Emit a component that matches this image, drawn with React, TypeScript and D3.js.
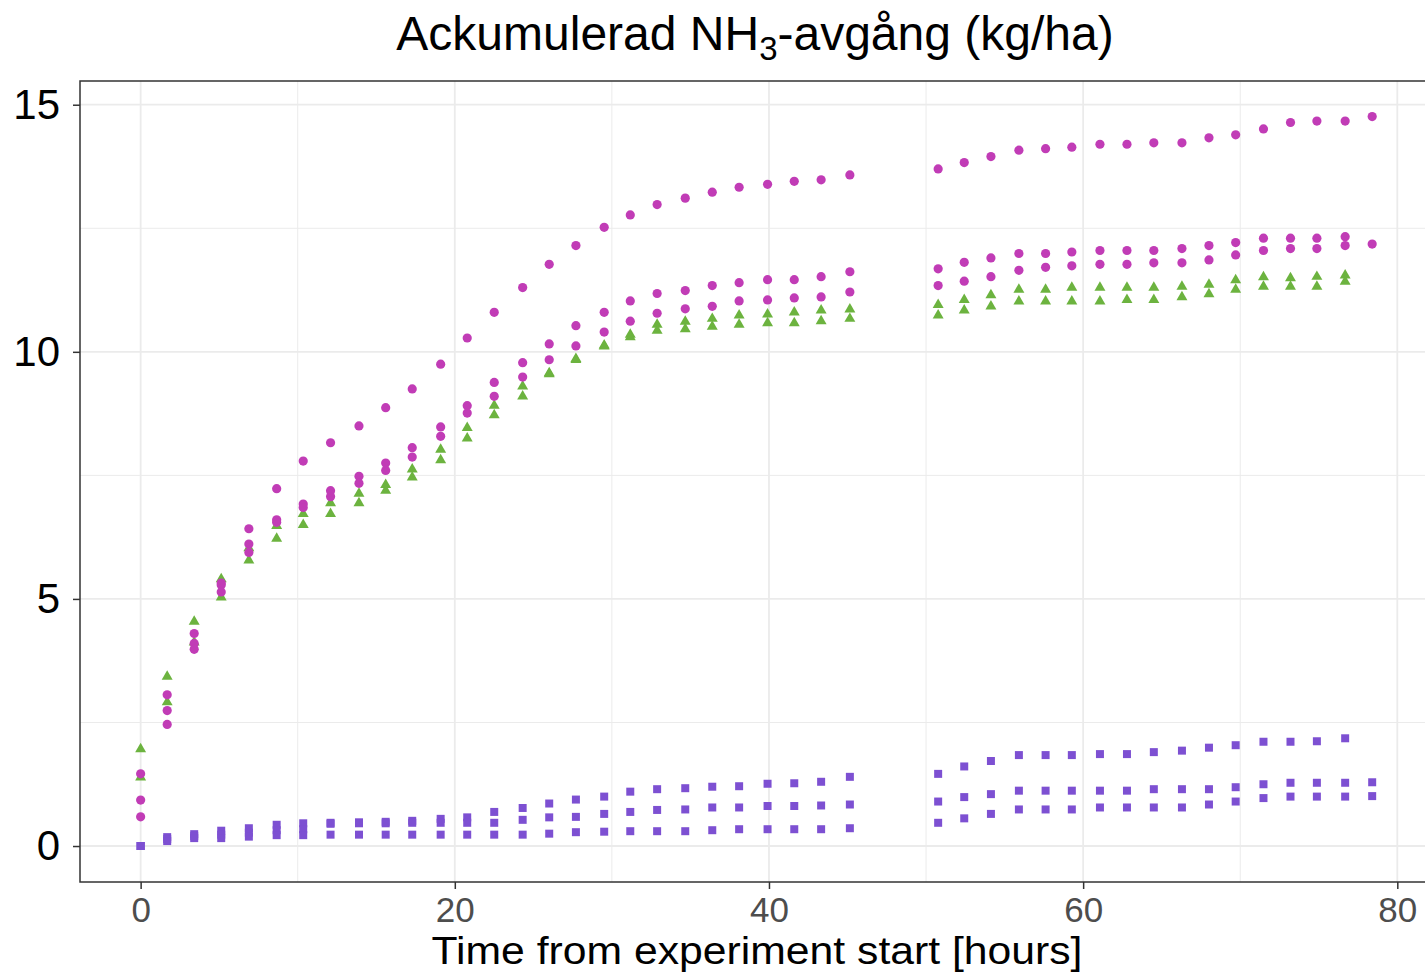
import React, { useRef, useEffect } from 'react'
import * as d3 from 'd3'

// sampling times (hours)
const times = [0, 1.69, 3.41, 5.13, 6.89, 8.66, 10.35, 12.09, 13.9, 15.6, 17.29, 19.1, 20.79, 22.51, 24.32, 26.01,
  27.71, 29.51, 31.17, 32.88, 34.67, 36.39, 38.1, 39.91, 41.61, 43.32, 45.15,
  50.77, 52.43, 54.13, 55.91, 57.61, 59.28, 61.07, 62.79, 64.5, 66.29, 68.01, 69.71, 71.48, 73.2, 74.88, 76.68, 78.4]

// magenta circles
const circA = [1.46, 3.06, 4.30, 5.32, 6.42, 7.23, 7.79, 8.16, 8.50, 8.87, 9.25, 9.75, 10.28, 10.80, 11.30, 11.77,
  12.15, 12.52, 12.77, 12.98, 13.11, 13.23, 13.33, 13.39, 13.45, 13.48, 13.58,
  13.70, 13.83, 13.95, 14.08, 14.11, 14.14, 14.20, 14.20, 14.23, 14.23, 14.33, 14.39, 14.51, 14.64, 14.67, 14.67, 14.76]
const circB = [0.93, 2.74, 4.10, 5.28, 6.11, 6.60, 6.92, 7.19, 7.48, 7.75, 8.06, 8.48, 8.91, 9.38, 9.78, 10.16,
  10.53, 10.80, 11.03, 11.18, 11.24, 11.34, 11.40, 11.46, 11.46, 11.52, 11.62,
  11.68, 11.81, 11.90, 11.99, 11.99, 12.02, 12.05, 12.05, 12.05, 12.09, 12.15, 12.21, 12.30, 12.30, 12.30, 12.33, null]
const circC = [0.59, 2.46, 3.98, 5.14, 5.94, 6.55, 6.85, 7.07, 7.34, 7.60, 7.87, 8.29, 8.76, 9.10, 9.49, 9.84,
  10.12, 10.40, 10.62, 10.78, 10.87, 10.92, 11.03, 11.05, 11.09, 11.11, 11.21,
  11.34, 11.43, 11.52, 11.65, 11.71, 11.74, 11.77, 11.77, 11.80, 11.80, 11.86, 11.96, 12.05, 12.09, 12.09, 12.15, 12.18]

// green triangles
const triA = [1.96, 3.43, 4.54, 5.40, 6.03, 6.48, 6.72, 6.94, 7.13, 7.31, 7.62, 8.02, 8.46, 8.91, 9.30, 9.57,
  9.86, 10.13, 10.35, 10.55, 10.61, 10.67, 10.74, 10.76, 10.80, 10.84, 10.86,
  10.95, 11.05, 11.15, 11.26, 11.26, 11.30, 11.30, 11.30, 11.30, 11.32, 11.36, 11.45, 11.51, 11.49, 11.52, 11.55, null]
const triB = [1.39, 2.91, 4.12, 5.03, 5.78, 6.22, 6.50, 6.72, 6.94, 7.19, 7.46, 7.81, 8.25, 8.72, 9.10, 9.55,
  9.84, 10.11, 10.30, 10.43, 10.46, 10.51, 10.55, 10.58, 10.58, 10.62, 10.67,
  10.74, 10.84, 10.92, 11.02, 11.02, 11.02, 11.02, 11.05, 11.05, 11.11, 11.17, 11.26, 11.32, 11.32, 11.32, 11.42, null]

// purple squares
const sqA = [0, 0.18, 0.24, 0.31, 0.36, 0.43, 0.46, 0.47, 0.48, 0.49, 0.51, 0.55, 0.58, 0.69, 0.77, 0.86,
  0.94, 1.00, 1.10, 1.15, 1.17, 1.20, 1.21, 1.26, 1.27, 1.30, 1.40,
  1.46, 1.61, 1.72, 1.84, 1.84, 1.84, 1.86, 1.86, 1.90, 1.93, 1.99, 2.04, 2.11, 2.11, 2.12, 2.18, null]
const sqB = [0, 0.14, 0.20, 0.23, 0.27, 0.32, 0.34, 0.45, 0.46, 0.46, 0.47, 0.47, 0.47, 0.47, 0.53, 0.58,
  0.59, 0.65, 0.69, 0.73, 0.74, 0.78, 0.78, 0.81, 0.81, 0.82, 0.84,
  0.90, 0.99, 1.05, 1.12, 1.12, 1.12, 1.12, 1.12, 1.15, 1.15, 1.15, 1.19, 1.25, 1.28, 1.28, 1.28, 1.29]
const sqC = [0, 0.10, 0.16, 0.16, 0.19, 0.22, 0.22, 0.23, 0.23, 0.23, 0.23, 0.23, 0.23, 0.23, 0.23, 0.25,
  0.28, 0.29, 0.30, 0.30, 0.30, 0.32, 0.34, 0.34, 0.34, 0.34, 0.36,
  0.47, 0.56, 0.65, 0.74, 0.74, 0.74, 0.78, 0.78, 0.78, 0.78, 0.84, 0.90, 0.97, 1.00, 1.00, 1.00, 1.01]

const xTicks = [0, 20, 40, 60, 80]
const xMinor = [10, 30, 50, 70]
const yTicks = [0, 5, 10, 15]
const yMinor = [2.5, 7.5, 12.5]

const MAGENTA = '#c13cb6'
const GREEN = '#6cb33f'
const PURPLE = '#7d50d2'

const App = () => {
  const svgRef = useRef<SVGSVGElement>(null)

  useEffect(() => {
    const width = 1425
    const height = 973
    const left = 80, right = 1427, top = 81, bottom = 882
    const font = '"Liberation Sans", Arial, sans-serif'

    const x = d3.scaleLinear().domain([-3.86, 81.89]).range([left, right])
    const y = d3.scaleLinear().domain([-0.728, 15.48]).range([bottom, top])

    const svg = d3.select(svgRef.current)
    svg.selectAll('*').remove()
    svg.attr('viewBox', [0, 0, width, height])

    // grid
    const grid = svg.append('g')
    grid.selectAll('.xmin').data(xMinor).join('line')
      .attr('x1', d => x(d)).attr('x2', d => x(d)).attr('y1', top).attr('y2', bottom)
      .attr('stroke', '#ebebeb').attr('stroke-width', 1)
    grid.selectAll('.ymin').data(yMinor).join('line')
      .attr('y1', d => y(d)).attr('y2', d => y(d)).attr('x1', left).attr('x2', right)
      .attr('stroke', '#ebebeb').attr('stroke-width', 1)
    grid.selectAll('.xmaj').data(xTicks).join('line')
      .attr('x1', d => x(d)).attr('x2', d => x(d)).attr('y1', top).attr('y2', bottom)
      .attr('stroke', '#ebebeb').attr('stroke-width', 1.8)
    grid.selectAll('.ymaj').data(yTicks).join('line')
      .attr('y1', d => y(d)).attr('y2', d => y(d)).attr('x1', left).attr('x2', right)
      .attr('stroke', '#ebebeb').attr('stroke-width', 1.8)

    // points
    const pts = (vals: (number | null)[]) =>
      times.map((t, i) => ({ t, v: vals[i] })).filter(d => d.v !== null) as { t: number, v: number }[]

    const squares = d3.symbol().type(d3.symbolSquare).size(64)
    const triangles = d3.symbol().type(d3.symbolTriangle).size(52)

    ;[sqA, sqB, sqC].forEach(s => {
      svg.append('g').selectAll('path').data(pts(s)).join('path')
        .attr('transform', d => `translate(${x(d.t)},${y(d.v)})`)
        .attr('d', squares).attr('fill', PURPLE)
    })
    ;[triA, triB].forEach(s => {
      svg.append('g').selectAll('path').data(pts(s)).join('path')
        .attr('transform', d => `translate(${x(d.t)},${y(d.v)})`)
        .attr('d', triangles).attr('fill', GREEN)
    })
    ;[circA, circB, circC].forEach(s => {
      svg.append('g').selectAll('circle').data(pts(s)).join('circle')
        .attr('cx', d => x(d.t)).attr('cy', d => y(d.v)).attr('r', 4.6)
        .attr('fill', MAGENTA)
    })

    // panel border
    svg.append('rect')
      .attr('x', left).attr('y', top).attr('width', right - left).attr('height', bottom - top)
      .attr('fill', 'none').attr('stroke', '#333333').attr('stroke-width', 1.5)

    // axes
    svg.append('g')
      .attr('transform', `translate(0,${bottom})`)
      .call(d3.axisBottom(x).tickValues(xTicks).tickSize(7).tickPadding(8).tickSizeOuter(0))
      .call(g => g.select('.domain').remove())
      .call(g => g.selectAll('line').attr('stroke', '#333333').attr('stroke-width', 1.5))
      .call(g => g.selectAll('text').attr('fill', '#4d4d4d').attr('font-size', 35).attr('font-family', font))

    svg.append('g')
      .attr('transform', `translate(${left},0)`)
      .call(d3.axisLeft(y).tickValues(yTicks).tickSize(7).tickPadding(13).tickSizeOuter(0))
      .call(g => g.select('.domain').remove())
      .call(g => g.selectAll('line').attr('stroke', '#333333').attr('stroke-width', 1.5))
      .call(g => g.selectAll('text').attr('fill', '#000000').attr('font-size', 42).attr('font-family', font))

    // titles
    const title = svg.append('text')
      .attr('x', 755).attr('y', 50)
      .attr('text-anchor', 'middle')
      .attr('font-family', font).attr('font-size', 48).attr('fill', '#000')
    title.append('tspan').text('Ackumulerad NH')
    title.append('tspan').attr('dy', 10).attr('font-size', 33).text('3')
    title.append('tspan').attr('dy', -10).text('-avgång (kg/ha)')

    svg.append('text')
      .attr('x', 757).attr('y', 964)
      .attr('text-anchor', 'middle')
      .attr('font-family', font).attr('font-size', 38).attr('fill', '#000')
      .attr('textLength', 651).attr('lengthAdjust', 'spacingAndGlyphs')
      .text('Time from experiment start [hours]')
  }, [])

  return (
    <svg ref={svgRef} width={1425} height={973}
      style={{ position: 'absolute', left: 0, top: 0, background: '#fff', display: 'block' }} />
  )
}

export default App
